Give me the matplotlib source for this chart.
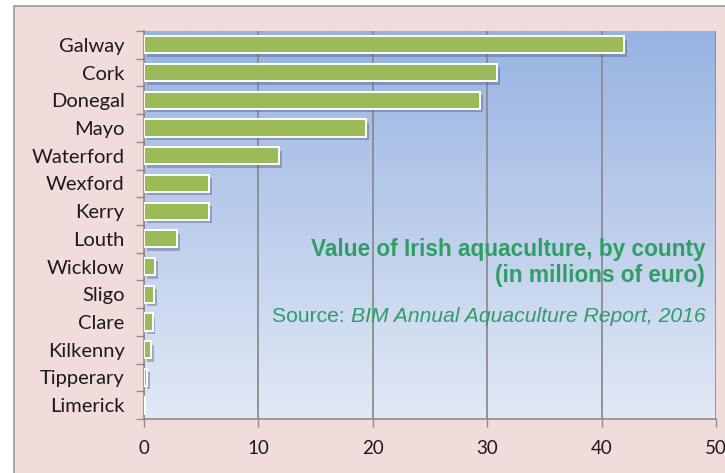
import numpy as np
import matplotlib.pyplot as plt
import matplotlib.patheffects as pe
from matplotlib.patches import Rectangle
from matplotlib.colors import LinearSegmentedColormap

# county values, in millions of euro
counties = ['Galway', 'Cork', 'Donegal', 'Mayo', 'Waterford', 'Wexford', 'Kerry',
            'Louth', 'Wicklow', 'Sligo', 'Clare', 'Kilkenny', 'Tipperary', 'Limerick']
values = [42.0, 30.9, 29.4, 19.4, 11.8, 5.7, 5.7, 2.9, 1.0, 0.85, 0.75, 0.65, 0.25, 0.05]
xticks = [0, 10, 20, 30, 40, 50]

pink = '#F2DCDB'
green = '#9BBB59'
text_green = '#2E9E66'
grid_gray = '#8C8C8C'

fig = plt.figure(figsize=(7.25, 4.73), dpi=100)
fig.patch.set_facecolor('white')

# chart frame (cropped at right and bottom like the original)
frame = Rectangle((14 / 725, -0.05), 1.1, 1.05 - 6 / 473, transform=fig.transFigure,
                  facecolor=pink, edgecolor='#9A9A9A', linewidth=1.2, zorder=-5)
fig.patches.append(frame)

ax = fig.add_axes([144 / 725, 1 - 419 / 473, 572 / 725, 388 / 473])
ax.set_facecolor('none')
ax.set_zorder(2)

n = len(counties)
y = np.arange(n)

# gradient background for plot area
cmap = LinearSegmentedColormap.from_list('bg', ['#E2E9F5', '#97B3E2'])
grad = np.linspace(0, 1, 256).reshape(-1, 1)
ax.imshow(grad, cmap=cmap, aspect='auto', origin='lower',
          extent=[0, 50, n - 0.5, -0.5], zorder=0)

bars = ax.barh(y, values, height=0.62, color=green, edgecolor='white',
               linewidth=1.4, zorder=3)
for b in bars:
    b.set_path_effects([pe.SimplePatchShadow(offset=(2, -2.5), shadow_rgbFace='#4A5C80',
                                             alpha=0.4), pe.Normal()])

ax.set_xlim(0, 50)
ax.set_ylim(n - 0.5, -0.5)
ax.set_xticks(xticks)
ax.set_yticks(y)
ax.set_yticklabels(counties)
ax.set_yticks(np.arange(-0.5, n, 1), minor=True)
ax.tick_params(axis='y', which='major', length=0, pad=14, labelsize=14.5,
               labelcolor='#1A1A1A')
ax.tick_params(axis='y', which='minor', length=6, color=grid_gray, width=1)
ax.tick_params(axis='x', length=6, color=grid_gray, width=1, pad=9,
               labelsize=13.5, labelcolor='#1A1A1A')
for lab in ax.get_xticklabels() + ax.get_yticklabels():
    lab.set_fontfamily('Lato')

ax.grid(axis='x', color=grid_gray, linewidth=1.3, zorder=1)
for s in ['top', 'right']:
    ax.spines[s].set_visible(False)
ax.spines['left'].set_color(grid_gray)
ax.spines['bottom'].set_color(grid_gray)
ax.spines['left'].set_linewidth(1.2)
ax.spines['bottom'].set_linewidth(1.2)

ax.text(0.981, 0.436, 'Value of Irish aquaculture, by county', transform=ax.transAxes,
        ha='right', va='center', color=text_green, fontsize=16.3, fontweight='bold',
        family='Liberation Sans', zorder=5)
ax.text(0.981, 0.371, '(in millions of euro)', transform=ax.transAxes,
        ha='right', va='center', color=text_green, fontsize=16.3, fontweight='bold',
        family='Liberation Sans', zorder=5)
src = ax.text(0.981, 0.263, 'BIM Annual Aquaculture Report, 2016',
              transform=ax.transAxes, ha='right', va='center', color=text_green,
              fontsize=15.2, style='italic', family='Liberation Sans', zorder=5)
ax.annotate('Source: ', xy=(0, 0.5), xycoords=src, ha='right', va='center',
            color=text_green, fontsize=15.2, family='Liberation Sans', zorder=5)

fig.savefig('out.png', dpi=100)
